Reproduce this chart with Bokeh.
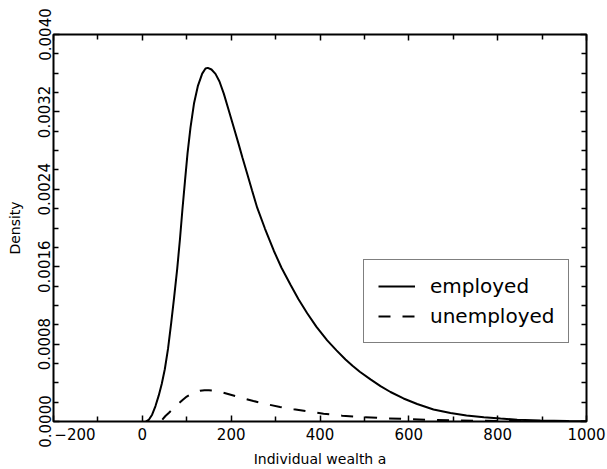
from bokeh.plotting import figure
from bokeh.models import (LinearAxis, FixedTicker, PrintfTickFormatter, Range1d,
                          Legend, LegendItem)
from bokeh.embed import file_html
from bokeh.resources import INLINE

# ---- data ----
x_emp = [8, 15, 22, 29.6, 37, 43.8, 50.6, 57.8, 65, 71.7, 78.5, 84.8, 90.4, 96.1,
         101.7, 108.4, 116.3, 125.3, 134.8, 142.2, 147.4, 155.7, 164.7, 173.7,
         183.4, 194, 205.9, 216.5, 225.5, 236.1, 246.9, 258.6, 276.2, 296, 313.3,
         333.6, 351.6, 371.2, 392.1, 416.2, 437.1, 457.4, 473.2, 489.6, 513.7,
         536.2, 558.7, 588, 618.8, 655.5, 693.8, 729.8, 768.8, 806.4, 844,
         896.4, 957.2, 1000]
d_emp = [0.0, 0.00002, 0.00007, 0.00016, 0.00027, 0.00039, 0.00054, 0.00075,
         0.00102, 0.001288, 0.001578, 0.001889, 0.002199, 0.002489, 0.002768,
         0.003037, 0.003286, 0.003472, 0.003596, 0.003648, 0.003655, 0.003638,
         0.003593, 0.003514, 0.003389, 0.003224, 0.003038, 0.002872, 0.002727,
         0.002561, 0.002391, 0.002210, 0.001992, 0.001765, 0.001589, 0.001413,
         0.001263, 0.001119, 0.000978, 0.000839, 0.000735, 0.000641, 0.000576,
         0.000514, 0.000435, 0.000366, 0.000305, 0.000238, 0.000181, 0.000124,
         0.000088, 0.000062, 0.0000435, 0.000030, 0.0000186, 0.0000103,
         0.0000041, 0.0000021]

x_unemp = [45, 52, 60, 70, 80, 90, 100, 110, 120, 130, 140, 150, 160, 176, 195,
           221, 250, 281, 310, 341, 375, 408, 450, 500, 550, 600, 650, 700, 760,
           820, 880, 940, 1000]
d_unemp = [0.00002, 0.000057, 0.00009, 0.000135, 0.000178, 0.00022, 0.000258,
           0.000285, 0.000305, 0.000318, 0.000324, 0.000324, 0.00032, 0.000305,
           0.000282, 0.000248, 0.000212, 0.000178, 0.00015, 0.000126, 0.000102,
           0.000081, 0.00006, 0.000045, 0.000033, 0.000024, 0.000017, 0.000012,
           0.000008, 0.000005, 0.000003, 0.000002, 0.000001]

x_major = [-200, 0, 200, 400, 600, 800, 1000]
x_minor = [-100, 100, 300, 500, 700, 900]
x_first_label = "\u2212200"   # drawn to the right of the y labels, as in the reference
y_major = [0.0, 0.0008, 0.0016, 0.0024, 0.0032, 0.0040]
y_minor = [0.0002, 0.0004, 0.0006, 0.0010, 0.0012, 0.0014, 0.0018, 0.0020,
           0.0022, 0.0026, 0.0028, 0.0030, 0.0034, 0.0036, 0.0038]

FONT = "DejaVu Sans"

p = figure(width=607, height=469, output_backend="svg",
           toolbar_location=None, x_range=Range1d(-200, 1000),
           y_range=Range1d(0, 0.004), min_border_left=53, min_border_right=21,
           min_border_top=34, min_border_bottom=48,
           background_fill_color="white", border_fill_color="white")
p.grid.visible = False
p.outline_line_color = "black"
p.outline_line_width = 2

def style(ax, ticker, labels=True):
    ax.ticker = ticker
    ax.axis_line_color = None
    ax.major_tick_in = 6
    ax.major_tick_out = 0
    ax.minor_tick_in = 5
    ax.minor_tick_out = 0
    ax.major_tick_line_width = 1.5
    ax.minor_tick_line_width = 1.5
    ax.major_label_text_font = FONT
    ax.major_label_text_color = "black"
    if not labels:
        ax.major_label_text_font_size = "1px"
        ax.major_label_text_color = None
        ax.major_label_standoff = 0

xt = FixedTicker(ticks=x_major, minor_ticks=x_minor)
yt = FixedTicker(ticks=y_major, minor_ticks=y_minor)

xa = p.xaxis[0]
style(xa, xt)
xa.major_label_text_font_size = "15px"
xa.major_label_standoff = 4
xa.major_label_overrides = {x_major[0]: "\u00a0" * 9 + x_first_label}
xa.axis_label = "Individual wealth a"
xa.axis_label_text_font = FONT
xa.axis_label_text_font_size = "14px"
xa.axis_label_text_font_style = "normal"
xa.axis_label_text_color = "black"
xa.axis_label_standoff = 4

ya = p.yaxis[0]
style(ya, yt)
ya.formatter = PrintfTickFormatter(format="%.4f")
ya.major_label_orientation = "vertical"
ya.major_label_text_font_size = "15px"
ya.major_label_standoff = 3
ya.axis_label = "Density"
ya.axis_label_text_font = FONT
ya.axis_label_text_font_size = "14px"
ya.axis_label_text_font_style = "normal"
ya.axis_label_text_color = "black"
ya.axis_label_standoff = 13

ra = LinearAxis()
style(ra, yt, labels=False)
p.add_layout(ra, "right")
ta = LinearAxis()
style(ta, xt, labels=False)
p.add_layout(ta, "above")

r1 = p.line(x_emp, d_emp, line_color="black", line_width=2)
r2 = p.line(x_unemp, d_unemp, line_color="black", line_width=2, line_dash="12 12")

legend = Legend(items=[LegendItem(label="employed", renderers=[r1]),
                       LegendItem(label="unemployed", renderers=[r2])],
                location=(310, 78), margin=0, padding=14, spacing=6,
                glyph_width=37, glyph_height=20, label_height=20,
                label_standoff=15, label_text_font=FONT, label_text_color="black",
                label_text_font_size="20px", border_line_color="black",
                border_line_width=1.5, background_fill_color="white",
                background_fill_alpha=1.0)
p.add_layout(legend, "center")

open("out.html", "w").write(file_html(p, INLINE))
